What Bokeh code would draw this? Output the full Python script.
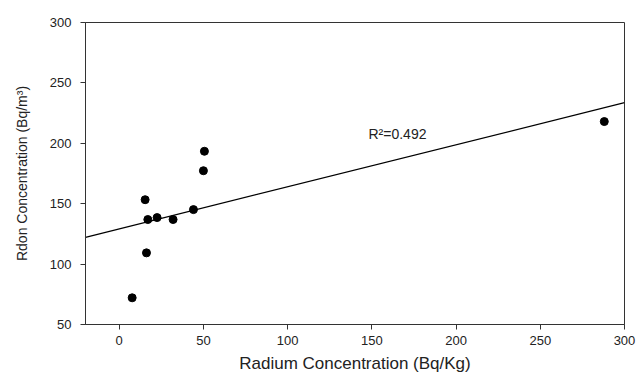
import numpy as np
from bokeh.plotting import figure
from bokeh.models import FixedTicker, Range1d
from bokeh.core.properties import value
from bokeh.embed import file_html
from bokeh.resources import INLINE

# Data
radium = [7.7, 15.4, 16.2, 17.0, 22.5, 32.0, 44.1, 50.0, 50.6, 288.0]
radon = [72.1, 153.3, 109.3, 136.9, 138.5, 136.9, 145.1, 177.3, 193.4, 218.0]
x_ticks = [0, 50, 100, 150, 200, 250, 300]
y_ticks = [50, 100, 150, 200, 250, 300]
r2_label = "R\u00b2=0.492"

FONT = "Liberation Sans"
AX = "#333333"

p = figure(width=636, height=375, output_backend="svg", toolbar_location=None,
           x_range=Range1d(-20, 300), y_range=Range1d(50, 300),
           min_border_left=85, min_border_right=12, min_border_top=22, min_border_bottom=51)

# linear regression through the data
slope, intercept = np.polyfit(radium, radon, 1)
xs = [p.x_range.start, p.x_range.end]
p.line(xs, [slope * v + intercept for v in xs], line_color="black", line_width=1.2)

p.scatter(radium, radon, size=8, color="black")

p.text(x=[148], y=[208], text=[r2_label], text_font_size="14px", text_baseline="middle",
       text_font=value(FONT), text_color="#222222")

p.xgrid.visible = False
p.ygrid.visible = False
p.outline_line_color = AX
p.outline_line_width = 1

for ax in (p.xaxis[0], p.yaxis[0]):
    ax.axis_line_color = AX
    ax.major_tick_line_color = AX
    ax.minor_tick_line_color = None
    ax.major_tick_in = 0
    ax.major_tick_out = 5
    ax.major_label_text_font = FONT
    ax.major_label_text_font_size = "13px"
    ax.major_label_text_color = "#222222"
    ax.axis_label_text_font = FONT
    ax.axis_label_text_font_style = "normal"
    ax.axis_label_text_color = "#222222"

p.xaxis[0].axis_label_text_font_size = "17px"
p.yaxis[0].axis_label_text_font_size = "14px"
p.xaxis[0].ticker = FixedTicker(ticks=x_ticks)
p.yaxis[0].ticker = FixedTicker(ticks=y_ticks)
p.xaxis[0].axis_label = "Radium Concentration (Bq/Kg)"
p.yaxis[0].axis_label = "Rdon Concentration (Bq/m\u00b3)"
p.xaxis[0].major_label_standoff = 6
p.xaxis[0].axis_label_standoff = 6
p.yaxis[0].major_label_standoff = 9
p.yaxis[0].axis_label_standoff = 17

open("out.html", "w").write(file_html(p, INLINE))
